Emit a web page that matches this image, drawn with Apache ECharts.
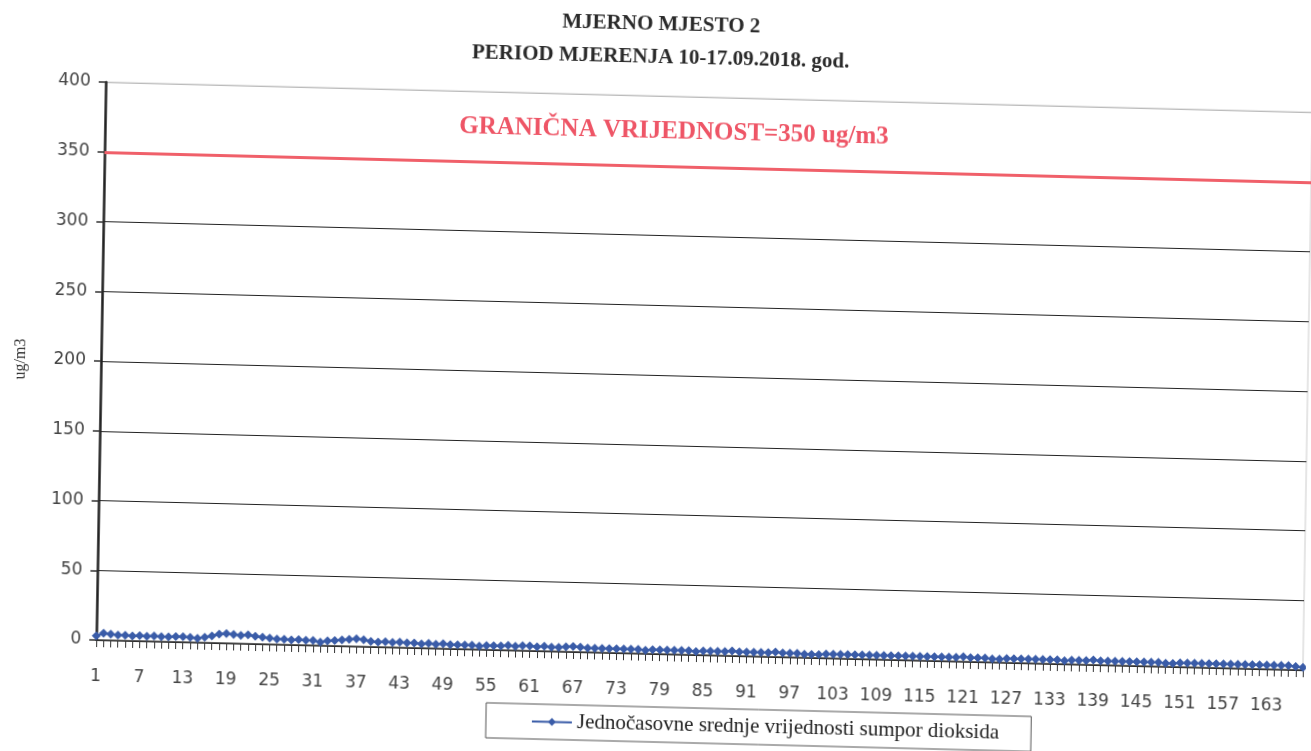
<!DOCTYPE html>
<html>
<head>
<meta charset="utf-8">
<title>Mjerno mjesto 2</title>
<script src="https://cdn.jsdelivr.net/npm/echarts@6/dist/echarts.min.js"></script>
<style>
  html, body { margin: 0; padding: 0; background: #fff; overflow: hidden; }
  /* scanned original is slightly skewed: horizontals fall to the right, verticals lean */
  #chart { width: 1311px; height: 751px; transform: matrix(1, 0.025, -0.017, 1, 0, 0); transform-origin: 50% 50%; }
</style>
</head>
<body>
<div id="chart"></div>
<script>
// hours 1..168 (7 days x 24h)
const hours = [];
for (let i = 1; i <= 168; i++) hours.push(String(i));

// hourly SO2 mean values, ug/m3
const so2Values = [
  3, 5, 4.5, 4, 4, 3.5, 4, 3.5, 4, 3.5,
  3.5, 4, 4, 3.5, 3, 4, 5, 6.5, 7, 6.5,
  6, 6.5, 5.5, 5, 4.5, 4, 4, 3.5, 4, 3.5,
  3.5, 2.5, 3.5, 4, 4.5, 5, 5.5, 5, 4, 3.5,
  4, 3.5, 4, 3.5, 3.5, 3, 3.5, 3, 3.5, 3,
  3, 3, 3, 2.5, 3, 3, 3, 3.5, 3, 3.5,
  3.5, 3, 3.5, 3, 3, 3.5, 4, 3.5, 3, 3,
  3, 3, 3, 3, 3, 3, 2.5, 3, 3, 3,
  3, 3, 3, 2.5, 3, 3, 3, 3, 3.5, 3,
  3, 3, 3, 3, 3.5, 3, 3, 3, 2.5, 2.5,
  2.5, 3, 3, 3, 3, 3, 3, 3, 3, 3,
  3, 3, 3, 3, 3, 3, 3, 3, 3, 3,
  3.5, 3, 3, 3, 2.5, 2.5, 3, 3, 3, 3,
  3, 3, 3, 3, 2.5, 3, 3, 3, 3.5, 3,
  3, 3, 3, 3, 3, 3, 3, 3, 2.5, 2.5,
  3, 3, 3, 3, 3, 3, 3, 3, 3, 3,
  3, 3, 3, 3, 3, 3, 2.5, 2
];

const limitValue = 350;
const seriesName = "Jednočasovne srednje vrijednosti sumpor dioksida";

const myChart = echarts.init(document.getElementById("chart"));

const option = {
  animation: false,
  backgroundColor: "#fff",
  title: [
    {
      text: "MJERNO MJESTO 2\nPERIOD MJERENJA 10-17.09.2018. god.",
      left: "center",
      top: 3,
      textStyle: {
        fontFamily: "Liberation Serif",
        fontSize: 21,
        fontWeight: "bold",
        color: "#2a2a2a",
        lineHeight: 33,
      },
    },
    {
      text: "GRANIČNA VRIJEDNOST=" + limitValue + " ug/m3",
      left: 665,
      top: 114,
      textAlign: "center",
      textStyle: {
        fontFamily: "Liberation Serif",
        fontSize: 25,
        fontWeight: "bold",
        color: "#ee5566",
      },
    },
  ],
  legend: {
    data: [seriesName],
    left: 492,
    top: 707,
    padding: [7, 32, 7, 45],
    borderColor: "#555",
    borderWidth: 1,
    itemWidth: 40,
    itemHeight: 10,
    itemGap: 6,
    textStyle: {
      fontFamily: "Liberation Serif",
      fontSize: 21,
      color: "#222",
    },
  },
  grid: {
    left: 101,
    right: 3,
    top: 96,
    bottom: 97,
    show: true,
    borderColor: "#ccc",
    borderWidth: 1,
  },
  xAxis: {
    type: "category",
    data: hours,
    boundaryGap: false,
    axisLine: { lineStyle: { color: "#333", width: 1.5 } },
    axisTick: {
      interval: 0,
      inside: false,
      length: 7,
      lineStyle: { color: "#333" },
    },
    axisLabel: {
      interval: 5,
      margin: 28,
      fontFamily: "DejaVu Sans",
      fontSize: 17,
      color: "#444",
    },
    splitLine: { show: false },
  },
  yAxis: {
    type: "value",
    min: 0,
    max: 400,
    interval: 50,
    name: "ug/m3",
    nameLocation: "middle",
    nameGap: 72,
    nameTextStyle: {
      fontFamily: "Liberation Serif",
      fontSize: 16,
      color: "#333",
    },
    axisLine: { show: true, lineStyle: { color: "#222", width: 2.5 } },
    axisTick: { show: true, length: 7, lineStyle: { color: "#333", width: 1.5 } },
    axisLabel: {
      margin: 15,
      fontFamily: "DejaVu Sans",
      fontSize: 17,
      color: "#444",
    },
    splitLine: {
      // 0..350 dark, top (400) line faint like the scan
      lineStyle: {
        color: ["#222", "#222", "#222", "#222", "#222", "#222", "#222", "#222", "#bbb"],
        width: 1.2,
      },
    },
  },
  series: [
    {
      name: seriesName,
      type: "line",
      data: so2Values,
      symbol: "diamond",
      symbolSize: 9,
      showAllSymbol: true,
      color: "#3a5ca8",
      lineStyle: { width: 2, color: "#3a5ca8" },
      itemStyle: { color: "#3a5ca8" },
      markLine: {
        silent: true,
        symbol: "none",
        label: { show: false },
        lineStyle: { color: "#f0606a", width: 3, type: "solid" },
        data: [{ yAxis: limitValue }],
      },
    },
  ],
};

myChart.setOption(option, true);
window.addEventListener("resize", function () {
  myChart.resize();
});
</script>
</body>
</html>
